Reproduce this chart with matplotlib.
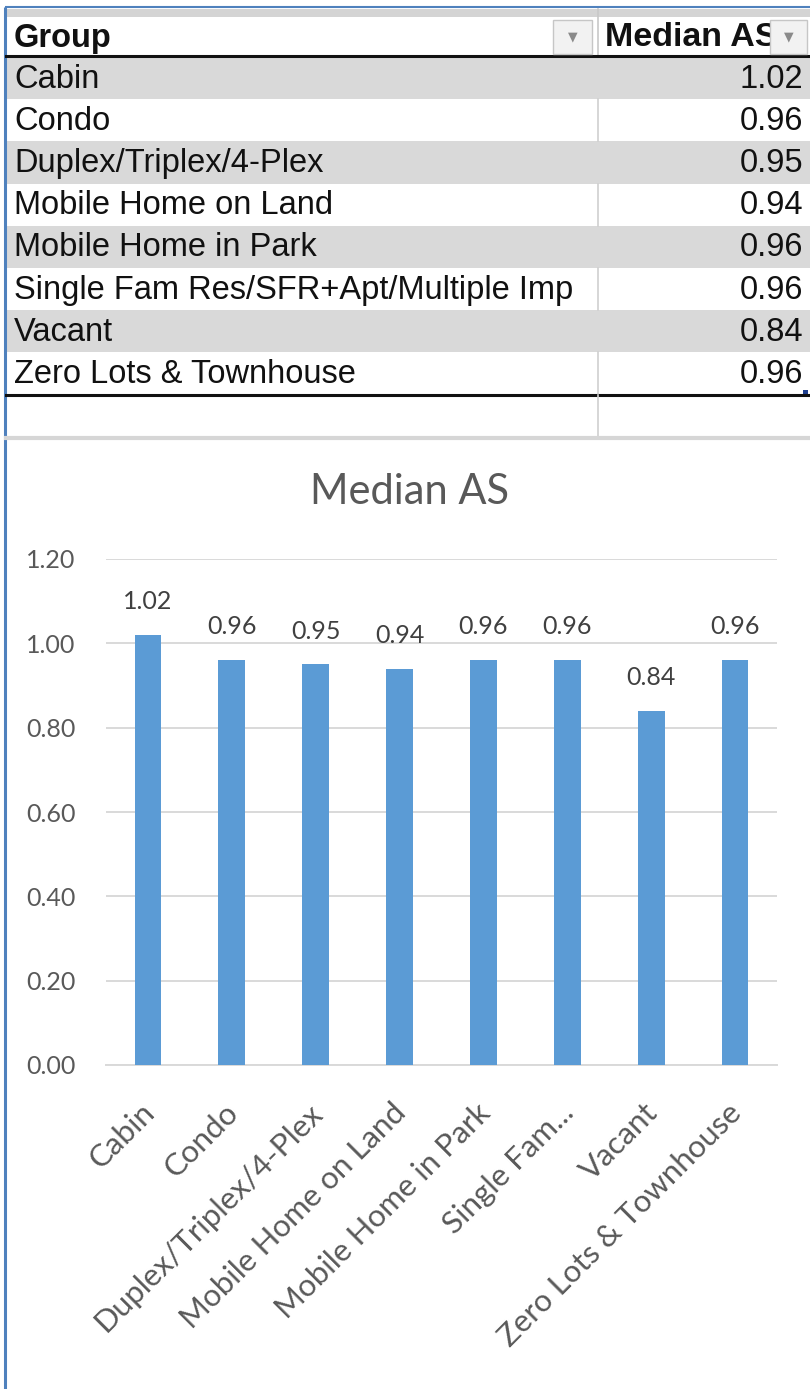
import matplotlib
matplotlib.use("Agg")
import matplotlib.pyplot as plt
from matplotlib.patches import Rectangle
from matplotlib.transforms import ScaledTranslation

# --- data ---
groups = ["Cabin", "Condo", "Duplex/Triplex/4-Plex", "Mobile Home on Land",
          "Mobile Home in Park", "Single Fam Res/SFR+Apt/Multiple Imp",
          "Vacant", "Zero Lots & Townhouse"]
median_as = [1.02, 0.96, 0.95, 0.94, 0.96, 0.96, 0.84, 0.96]
axis_labels = ["Cabin", "Condo", "Duplex/Triplex/4-Plex", "Mobile Home on Land",
               "Mobile Home in Park", "Single Fam...", "Vacant",
               "Zero Lots & Townhouse"]
y_ticks = [0.0, 0.2, 0.4, 0.6, 0.8, 1.0, 1.2]

W, H = 810, 1389
DPI = 100

TABLE_FONT = "Liberation Sans"
CHART_FONT = "Lato"
BAR_COLOR = "#5B9BD5"
GRID_COLOR = "#D9D9D9"
AXIS_TEXT = "#595959"
LABEL_TEXT = "#404040"
ROW_GRAY = "#D9D9D9"

fig = plt.figure(figsize=(W / DPI, H / DPI), dpi=DPI)
fig.patch.set_facecolor("white")

# pixel-space canvas for the worksheet part
bg = fig.add_axes([0, 0, 1, 1])
bg.set_xlim(0, W)
bg.set_ylim(H, 0)
bg.axis("off")

# frame: blue outline on the left and top
bg.plot([5, 5], [7, H], color="#4F81BD", lw=2.2, solid_capstyle="butt")
bg.plot([5, W], [7, 7], color="#4F81BD", lw=1.5, solid_capstyle="butt")
bg.add_patch(Rectangle((6, 9), W - 6, 8, color="#D4D4D4", lw=0))

# header row
col_split = 598
header_top, header_bot = 18, 56
row_h = 42.2
bg.text(14, 38, "Group", fontsize=23.5, fontweight="bold", family=TABLE_FONT,
        va="center", ha="left", color="#111111", zorder=2)
bg.text(605, 38, "Median AS", fontsize=24.5, fontweight="bold", family=TABLE_FONT,
        va="center", ha="left", color="#111111", zorder=2)
bg.plot([col_split, col_split], [9, header_bot], color="#C8C8C8", lw=1.2)

# dropdown filter buttons
for bx0, bx1 in [(553, 592), (770, 807)]:
    bg.add_patch(Rectangle((bx0, header_top + 2), bx1 - bx0, header_bot - header_top - 4,
                           facecolor="#F2F2F2", edgecolor="#C6C6C6", lw=1, zorder=5))
    bg.text((bx0 + bx1) / 2, 37, "\u25bc", fontsize=9, color="#8A8A8A",
            ha="center", va="center", family="DejaVu Sans", zorder=6)

# data rows
for i, (g, v) in enumerate(zip(groups, median_as)):
    top = header_bot + 1 + i * row_h
    if i % 2 == 0:
        bg.add_patch(Rectangle((6, top), W - 6, row_h, color=ROW_GRAY, lw=0))
    else:
        bg.plot([col_split, col_split], [top, top + row_h], color="#D0D0D0", lw=1.2)
    yc = top + row_h / 2 + 1
    bg.text(14, yc, g, fontsize=23.5, family=TABLE_FONT, va="center", ha="left",
            color="#111111")
    bg.text(803, yc, f"{v:.2f}", fontsize=23.5, family=TABLE_FONT, va="center",
            ha="right", color="#111111")

table_bot = header_bot + 1 + len(groups) * row_h
bg.plot([6, W], [header_bot, header_bot], color="#111111", lw=2.2)
bg.plot([6, W], [table_bot, table_bot], color="#111111", lw=2.2)
bg.add_patch(Rectangle((803, table_bot - 5), 5, 5, color="#1F3F8F", lw=0))

# empty row under the table
bg.plot([col_split, col_split], [table_bot, table_bot + row_h], color="#D0D0D0", lw=1.2)
bg.plot([6, W], [table_bot + row_h + 1, table_bot + row_h + 1], color="#D6D6D6", lw=3)

# --- chart ---
ax = fig.add_axes([106 / W, (H - 1065) / H, 671 / W, 506 / H])
ax.set_facecolor("none")
ax.set_zorder(2)

x = list(range(len(median_as)))
ax.bar(x, median_as, width=0.32, color=BAR_COLOR, zorder=3)

for xi, v in zip(x, median_as):
    ax.annotate(f"{v:.2f}", (xi, v), xytext=(0, 24), textcoords="offset points",
                ha="center", va="center", fontsize=18, family=CHART_FONT,
                color=LABEL_TEXT)

ax.set_xlim(-0.5, len(median_as) - 0.5)
ax.set_ylim(0, 1.2)
ax.set_yticks(y_ticks)
ax.set_yticklabels([f"{t:.2f}" for t in y_ticks], fontsize=18, family=CHART_FONT,
                   color=AXIS_TEXT)
ax.set_xticks(x)
ax.set_xticklabels(axis_labels, rotation=45, ha="right", rotation_mode="anchor",
                   fontsize=22.5, family=CHART_FONT, color=AXIS_TEXT)
ax.tick_params(axis="y", length=0, pad=22)
ax.tick_params(axis="x", length=0, pad=24)
shift = ScaledTranslation(-8 / DPI, 0, fig.dpi_scale_trans)
for lbl in ax.get_xticklabels():
    lbl.set_transform(lbl.get_transform() + shift)
ax.grid(axis="y", color=GRID_COLOR, lw=1.4, zorder=0)
for side in ["top", "right", "left"]:
    ax.spines[side].set_visible(False)
ax.spines["bottom"].set_color(GRID_COLOR)
ax.spines["bottom"].set_linewidth(1.4)

fig.text(410 / W, 1 - 492 / H, "Median AS", fontsize=30, family=CHART_FONT,
         color=AXIS_TEXT, ha="center", va="center")

fig.savefig("out.png", dpi=DPI, facecolor="white")
